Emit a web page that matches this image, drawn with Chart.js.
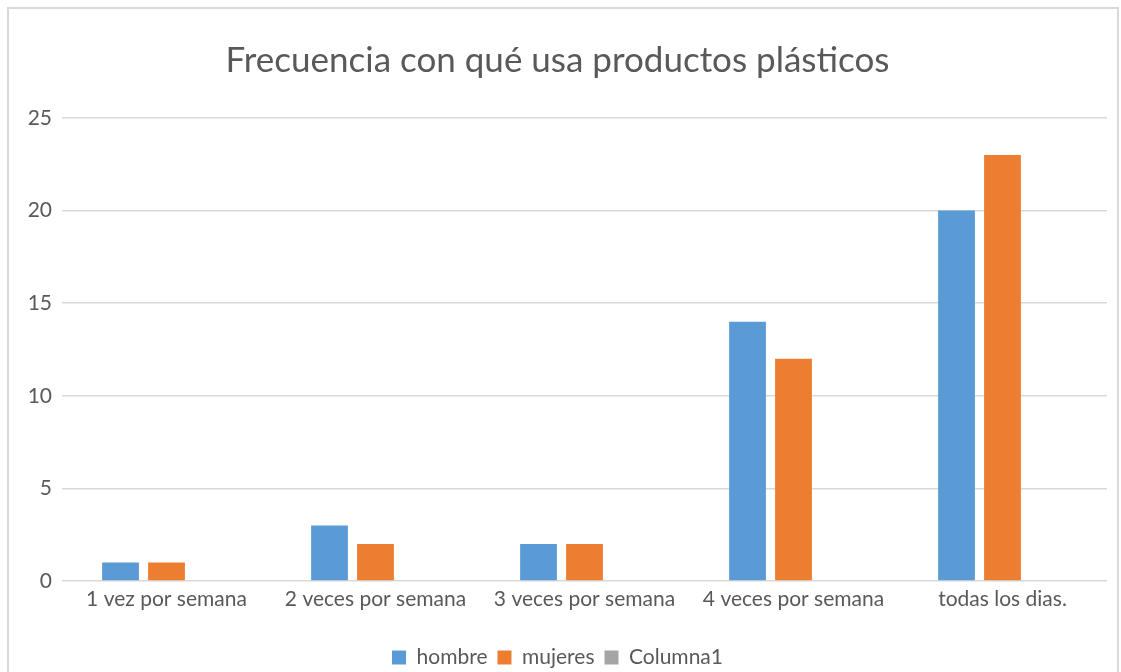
<!DOCTYPE html>
<html>
<head>
<meta charset="utf-8">
<script src="https://cdn.jsdelivr.net/npm/chart.js@4"></script>
<style>
  html, body { margin: 0; padding: 0; background: #fff; overflow: hidden; }
  #frame { position: absolute; left: 7px; top: 7px; width: 1108px; height: 680px; border: 2px solid #d9d9d9; }
  #wrap { position: absolute; left: 0; top: 0; width: 1121px; height: 678px; }
</style>
</head>
<body>
<div id="frame"></div>
<div id="wrap"><canvas id="chart" width="1121" height="678"></canvas></div>
<script>
  const categories = ['1 vez por semana', '2 veces por semana', '3 veces por semana', '4 veces por semana', 'todas los dias.'];
  const hombre = [1, 3, 2, 14, 20];
  const mujeres = [1, 2, 2, 12, 23];
  const columna1 = [null, null, null, null, null];
  const yTicks = [0, 5, 10, 15, 20, 25];

  const textColor = '#595959';
  const fontFamily = 'Lato, "Open Sans", sans-serif';

  new Chart(document.getElementById('chart'), {
    type: 'bar',
    data: {
      labels: categories,
      datasets: [
        { label: 'hombre', data: hombre, backgroundColor: '#5b9bd5' },
        { label: 'mujeres', data: mujeres, backgroundColor: '#ed7d31' },
        { label: 'Columna1', data: columna1, backgroundColor: '#a5a5a5' }
      ]
    },
    options: {
      responsive: false,
      animation: false,
      layout: { padding: { left: 8, right: 14, top: 0, bottom: 0 } },
      datasets: {
        bar: { categoryPercentage: 0.66, barPercentage: 0.8 }
      },
      plugins: {
        title: {
          display: true,
          text: 'Frecuencia con qué usa productos plásticos',
          color: textColor,
          font: { family: fontFamily, size: 35, weight: 'normal' },
          padding: { top: 40, bottom: 36 }
        },
        legend: {
          position: 'bottom',
          labels: {
            color: textColor,
            font: { family: fontFamily, size: 21 },
            boxWidth: 14,
            boxHeight: 14,
            padding: 10
          }
        },
        tooltip: { enabled: false }
      },
      scales: {
        x: {
          grid: { display: false },
          border: { display: false },
          ticks: { color: textColor, font: { family: fontFamily, size: 21 }, maxRotation: 0, padding: -2 },
          afterFit: s => { s.height = 56; }
        },
        y: {
          min: 0,
          max: 25,
          afterBuildTicks: s => { s.ticks = yTicks.map(v => ({ value: v })); },
          grid: { color: '#d9d9d9', lineWidth: 1.5, drawTicks: false },
          border: { display: false },
          ticks: { color: textColor, font: { family: fontFamily, size: 21 }, padding: 10 },
          afterFit: s => { s.width = 54; }
        }
      }
    }
  });
</script>
</body>
</html>
